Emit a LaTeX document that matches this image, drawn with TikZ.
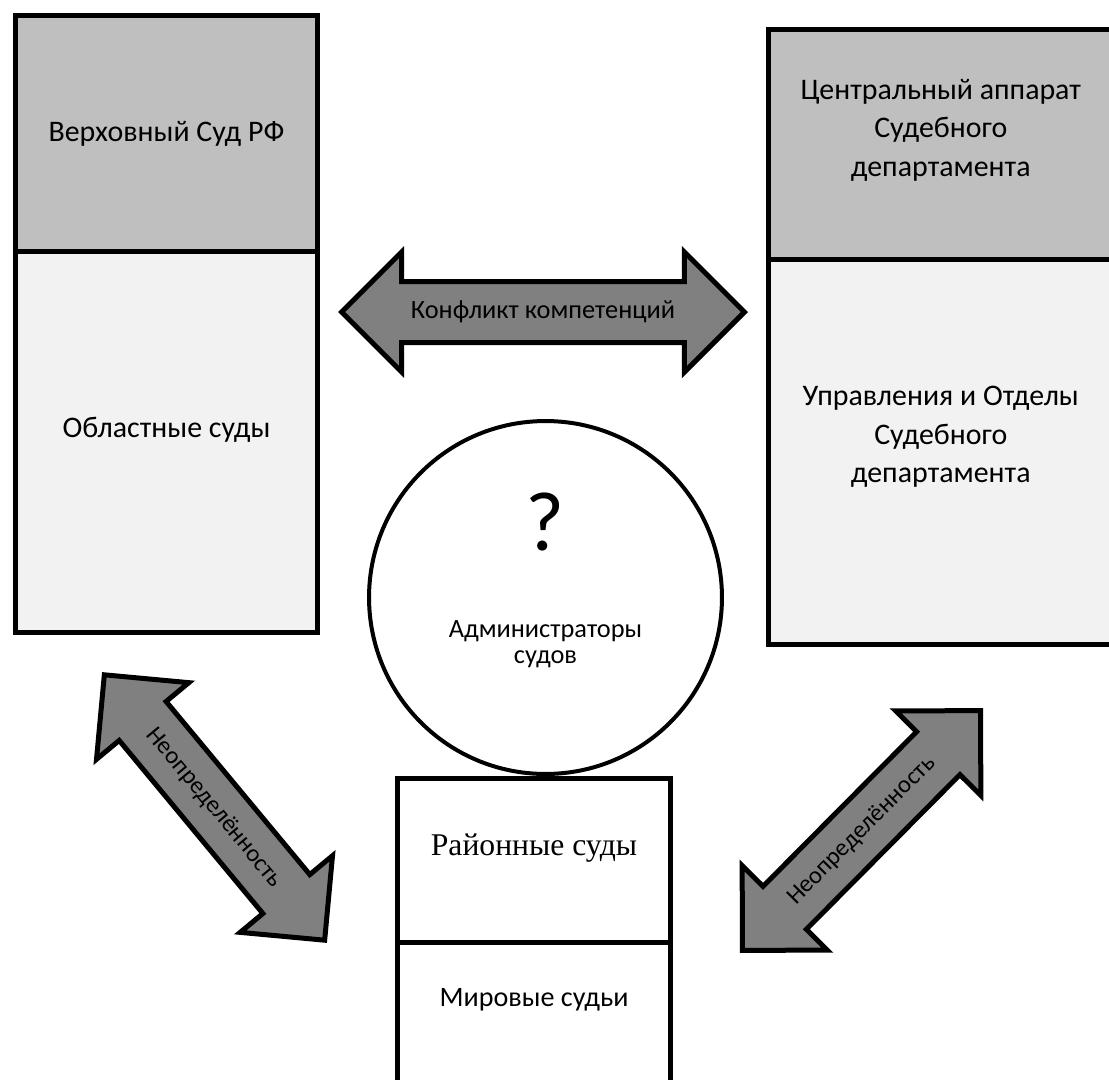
\documentclass[tikz,border=0pt]{standalone}
\usepackage{fontspec}
\setmainfont{Carlito}
\newfontfamily\timesru{Liberation Serif}
\usetikzlibrary{positioning}
\usetikzlibrary{shapes.arrows}
\definecolor{topgray}{RGB}{191,191,191}
\definecolor{lowgray}{RGB}{242,242,242}
\definecolor{arrowgray}{RGB}{128,128,128}
\tikzset{
  courtbox/.style={rectangle,draw,line width=0.1cm,outer sep=0pt,inner sep=0pt,
    align=center,font=\fontsize{17}{22}\selectfont},
  courttext/.style={align=center,inner sep=0pt,font=\fontsize{17}{22}\selectfont},
  lifted/.style={text height=0.36cm,text depth=0.56cm},
  twoway/.style={double arrow,draw,line width=0.1cm,fill=arrowgray,
    minimum width=2.3cm,double arrow head extend=0.59cm,
    inner sep=0.33cm,text height=0.36cm,text depth=0.1cm,
    font=\fontsize{14}{14}\selectfont}
}

\begin{document}
\begin{tikzpicture}[x=0.02cm,y=-0.02cm]
  \useasboundingbox (0,0) rectangle (1109,1079);
  \clip (0,0) rectangle (1109,1079);
  \fill[white] (0,0) rectangle (1109,1079);

  % left column: courts
  \node [courtbox,fill=topgray,minimum width=6.06cm,minimum height=4.73cm]
    (vs) at (166.5,133.75) {Верховный Суд РФ};
  \node [courtbox,lifted,fill=lowgray,minimum width=6.06cm,minimum height=7.62cm,
    below=0pt of vs] (obl) {Областные суды};

  % right column: judicial department
  \node [courtbox,fill=topgray,minimum width=6.89cm,minimum height=4.61cm]
    (ca) at (940.75,144.75) {};
  \node [courtbox,fill=lowgray,minimum width=6.89cm,minimum height=7.7cm,
    below=0pt of ca] (uo) {};
  \node [courttext] (catext) at ([yshift=0.29cm]ca.center)
    {Центральный аппарат\\Судебного\\департамента};
  \node [courttext] (uotext) at ([yshift=0.31cm]uo.center)
    {Управления и Отделы\\Судебного\\департамента};

  % administrators
  \node [circle,draw,line width=0.08cm,fill=white,minimum size=7.06cm]
    (adm) at (545.5,597.5) {};
  \node [inner sep=0pt,font=\fontsize{48}{48}\selectfont]
    (qm) at ([yshift=1.51cm]adm.center) {?};
  \node [align=center,inner sep=0pt,font=\fontsize{15}{14.5}\selectfont]
    (admtext) at ([yshift=-0.93cm]adm.center) {Администраторы\\судов};

  % bottom: district courts and justices of the peace
  \node [courtbox,lifted,fill=white,minimum width=5.46cm,minimum height=3.29cm,
    font=\timesru\fontsize{18}{18}\selectfont] (rs) at (534,860.75) {Районные суды};
  \node [courtbox,fill=white,minimum width=5.46cm,minimum height=2.94cm,
    font=\fontsize{16}{16}\selectfont,
    text height=0.36cm,text depth=0.76cm,below=0pt of rs] (ms) {Мировые судьи};

  % arrows
  \node [twoway,minimum height=8.06cm,font=\fontsize{15}{15}\selectfont]
    (konf) at (543,312) {Конфликт компетенций};
  \node [twoway,minimum height=6.9cm,rotate=-50.3]
    (neo1) at (214.5,807.5) {Неопределённость};
  \node [twoway,minimum height=6.76cm,rotate=45.2]
    (neo2) at (861.5,830.5) {Неопределённость};
\end{tikzpicture}
\end{document}
